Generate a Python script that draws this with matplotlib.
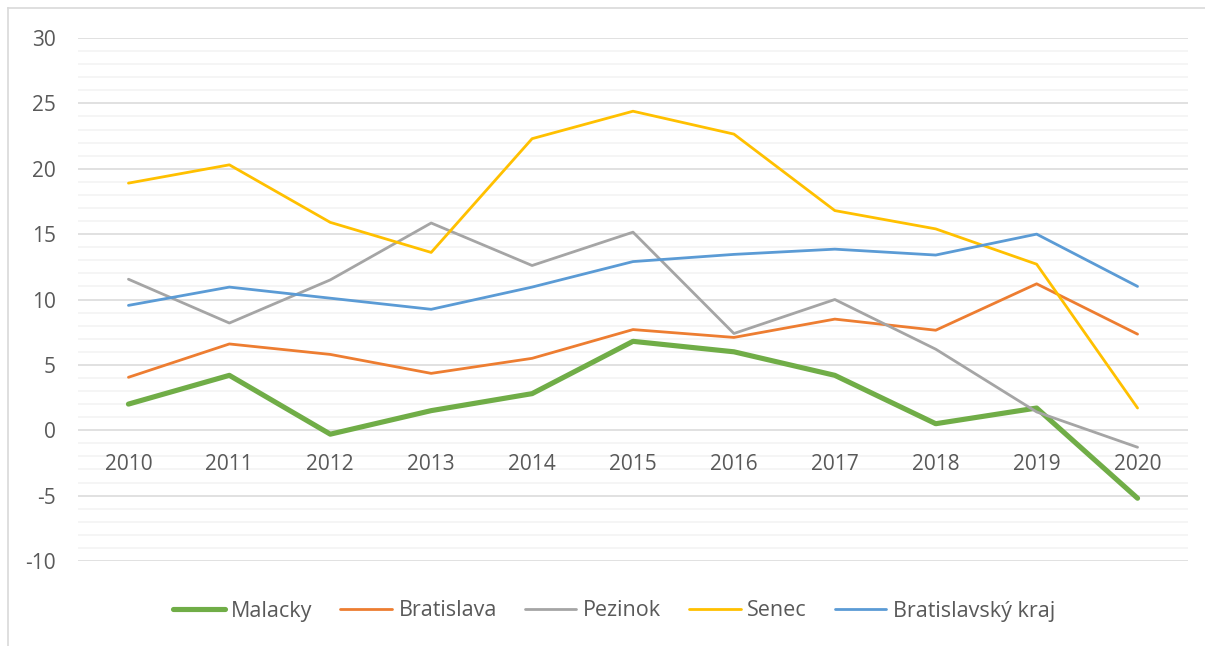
import numpy as np
import matplotlib
matplotlib.use("Agg")
import matplotlib.pyplot as plt
from matplotlib.lines import Line2D

plt.rcParams['font.family'] = ['Open Sans', 'DejaVu Sans']

years = ["2010", "2011", "2012", "2013", "2014", "2015", "2016", "2017", "2018", "2019", "2020"]
malacky = [2.0, 4.2, -0.3, 1.5, 2.8, 6.8, 6.0, 4.2, 0.5, 1.7, -5.2]
bratislava = [4.05, 6.6, 5.8, 4.35, 5.5, 7.7, 7.1, 8.5, 7.65, 11.2, 7.35]
pezinok = [11.55, 8.2, 11.5, 15.85, 12.6, 15.15, 7.4, 10.0, 6.2, 1.4, -1.3]
senec = [18.9, 20.3, 15.9, 13.6, 22.3, 24.4, 22.65, 16.8, 15.4, 12.7, 1.7]
kraj = [9.55, 10.95, 10.1, 9.25, 10.95, 12.9, 13.45, 13.85, 13.4, 15.0, 11.0]

W, H = 1205, 646
fig = plt.figure(figsize=(W / 100, H / 100), dpi=100)
ax = fig.add_axes([78 / W, 1 - 561 / H, (1188 - 78) / W, (561 - 38) / H])

x = np.arange(len(years))
#Series drawn in the same order as the legend, thick green first.
ax.plot(x, malacky, color="#70AD47", lw=3.7, label="Malacky", solid_capstyle="round", zorder=2)
ax.plot(x, bratislava, color="#ED7D31", lw=2.0, label="Bratislava", solid_capstyle="round", zorder=2)
ax.plot(x, pezinok, color="#A5A5A5", lw=2.0, label="Pezinok", solid_capstyle="round", zorder=2)
ax.plot(x, senec, color="#FFC000", lw=2.0, label="Senec", solid_capstyle="round", zorder=2)
ax.plot(x, kraj, color="#5B9BD5", lw=2.0, label="Bratislavský kraj", solid_capstyle="round", zorder=2)

ax.set_xlim(-0.5, len(years) - 0.5)
ax.set_ylim(-10, 30)
ax.set_yticks(np.arange(-10, 31, 5))

#Gridlines drawn by hand so the year labels sit on top of them.
for v in np.arange(-10, 31, 1):
    if v % 5 == 0:
        ax.axhline(v, color="#D9D9D9", lw=1.1, zorder=0.1)
    else:
        ax.axhline(v, color="#F2F2F2", lw=1.1, zorder=0.1)
ax.set_axisbelow(True)

ax.set_xticks(x)
ax.set_xticklabels(years)
ax.spines['bottom'].set_position(('data', 0))
for s in ax.spines.values():
    s.set_visible(False)
ax.tick_params(axis="x", length=0, pad=17, labelsize=15, labelcolor="#595959")
ax.tick_params(axis="y", which="both", length=0, pad=16, labelsize=15, labelcolor="#595959")
ax.yaxis.set_major_formatter(matplotlib.ticker.FuncFormatter(lambda v, p: "%d" % v))

leg = fig.legend(loc="center", bbox_to_anchor=(614 / W, 1 - 611 / H), ncol=5, frameon=False,
                 fontsize=15.5, handlelength=2.4, handletextpad=0.3, columnspacing=1.3)
for t in leg.get_texts():
    t.set_color("#595959")

#Chart border, only top and left edges are visible in the frame.
fig.add_artist(Line2D([8 / W, 1], [1 - 8 / H, 1 - 8 / H], color="#D9D9D9", lw=1.2, transform=fig.transFigure))
fig.add_artist(Line2D([8 / W, 8 / W], [0, 1 - 8 / H], color="#D9D9D9", lw=1.2, transform=fig.transFigure))

fig.savefig("out.png", dpi=100)
